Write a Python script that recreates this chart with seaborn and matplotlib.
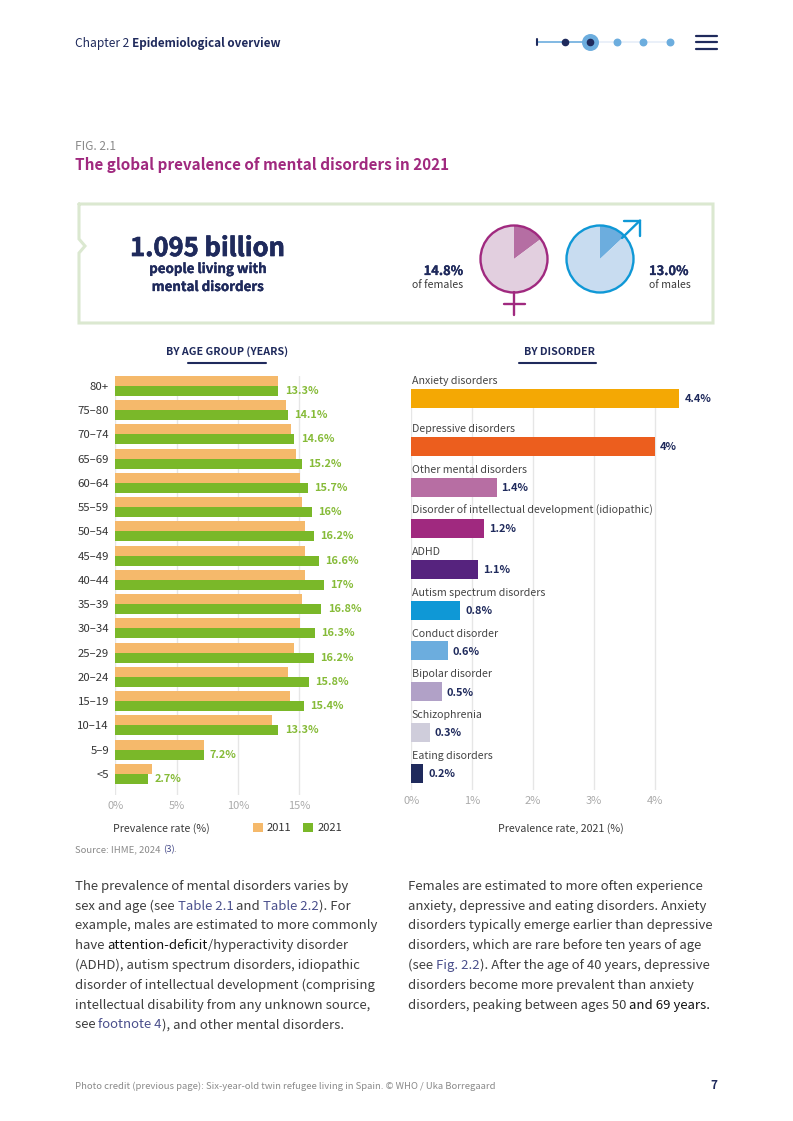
import matplotlib
matplotlib.use('Agg')
import matplotlib.pyplot as plt
import matplotlib.patheffects as pe
from matplotlib.patches import Circle
import pandas as pd
import seaborn as sns

ageGroups = ['80+', '75–80', '70–74', '65–69', '60–64', '55–59', '50–54', '45–49', '40–44',
             '35–39', '30–34', '25–29', '20–24', '15–19', '10–14', '5–9', '<5']
rate2011 = [13.3, 13.9, 14.3, 14.7, 15.05, 15.2, 15.5, 15.5, 15.45, 15.2, 15.05, 14.55, 14.1, 14.2, 12.8, 7.2, 3.0]
rate2021 = [13.3, 14.1, 14.6, 15.2, 15.7, 16, 16.2, 16.6, 17, 16.8, 16.3, 16.2, 15.8, 15.4, 13.3, 7.2, 2.7]

disorders = ['Anxiety disorders', 'Depressive disorders', 'Other mental disorders',
             'Disorder of intellectual development (idiopathic)', 'ADHD', 'Autism spectrum disorders',
             'Conduct disorder', 'Bipolar disorder', 'Schizophrenia', 'Eating disorders']
disorderRates = [4.4, 4, 1.4, 1.2, 1.1, 0.8, 0.6, 0.5, 0.3, 0.2]
disorderColors = ['#f4a804', '#ec5e1e', '#b76ea3', '#a0297f', '#56237e', '#0f98d6', '#6cadde', '#b1a1c7', '#cfcddb', '#1f2a5c']

femaleRate = 14.8
maleRate = 13.0

leftBody = [
  [('The prevalence of mental disorders varies by', 'body')],
  [('sex and age (see ', 'body'), ('Table 2.1', 'link'), (' and ', 'body'), ('Table 2.2', 'link'), ('). For', 'body')],
  [('example, males are estimated to more commonly', 'body')],
  [('have ', 'body'), ('attention-deficit', 'dark'), ('/hyperactivity disorder', 'body')],
  [('(ADHD), autism spectrum disorders, idiopathic', 'body')],
  [('disorder of intellectual development (comprising', 'body')],
  [('intellectual disability from any unknown source,', 'body')],
  [('see ', 'body'), ('footnote 4', 'link'), ('), and other mental disorders.', 'body')],
]
rightBody = [
  [('Females are estimated to more often experience', 'body')],
  [('anxiety, depressive and eating disorders. Anxiety', 'body')],
  [('disorders typically emerge earlier than depressive', 'body')],
  [('disorders, which are rare before ten years of age', 'body')],
  [('(see ', 'body'), ('Fig. 2.2', 'link'), ('). After the age of 40 years, depressive', 'body')],
  [('disorders become more prevalent than anxiety', 'body')],
  [('disorders, peaking between ages 50 ', 'body'), ('and 69 years.', 'dark')],
]

NAVY = '#1f2a5c'
MAGENTA = '#a0297f'
BLUE = '#0f98d6'
GREEN = '#7ab829'
ORANGE = '#f5b96b'
GREY = '#8a8a8a'
W, H = 793, 1121
RUN_COLORS = {'body': '#3d3d3d', 'link': '#4a4f8c', 'dark': '#111111'}

sns.set_theme(style='white')
plt.rcParams['font.family'] = ['Noto Sans CJK SC', 'DejaVu Sans']

fig = plt.figure(figsize=(W / 100, H / 100), dpi=100, facecolor='white')
renderer = fig.canvas.get_renderer()


def pxAxes(left, top, right, bottom):
  return fig.add_axes([left / W, 1 - bottom / H, (right - left) / W, (bottom - top) / H])


page = fig.add_axes([0, 0, 1, 1], zorder=5)
page.set_xlim(0, W)
page.set_ylim(H, 0)
page.axis('off')
page.patch.set_alpha(0)


def bold(x, y, s, size, color=NAVY, ha='left', weight='bold', stroke=0):
  t = page.text(x, y, s, fontsize=size, color=color, ha=ha, va='baseline', fontweight=weight)
  if stroke:
    t.set_path_effects([pe.withStroke(linewidth=stroke, foreground=color)])


def plain(x, y, s, size, color='#3b3b3b', ha='left'):
  page.text(x, y, s, fontsize=size, color=color, ha=ha, va='baseline')


def textRuns(x, y, parts, size):
  for s, kind in parts:
    t = page.text(x, y, s, fontsize=size, va='baseline', color=RUN_COLORS[kind])
    t.set_text(s + '|')
    full = t.get_window_extent(renderer).width
    t.set_text('|')
    bar = t.get_window_extent(renderer).width
    t.set_text(s)
    x += full - bar


# age group chart
ageDf = pd.DataFrame({
  'age': ageGroups * 2,
  'rate': rate2011 + rate2021,
  'year': ['2011'] * len(ageGroups) + ['2021'] * len(ageGroups),
})
axAge = pxAxes(115.3, 376, 365, 795)
sns.barplot(data=ageDf, y='age', x='rate', hue='year', palette=[ORANGE, GREEN], width=0.825, gap=0,
            saturation=1, linewidth=0, ax=axAge, zorder=3)
axAge.set_xlim(0, (365 - 115.3) / 12.27)
axAge.set_ylim(16.87, -0.4125)
axAge.set_xticks([0, 5, 10, 15], ['0%', '5%', '10%', '15%'])
axAge.bar_label(axAge.containers[1], labels=[f'{v:g}%' for v in rate2021], padding=4.5, color='#86bb38',
                fontsize=7.9, fontweight='bold')
sns.move_legend(axAge, 'center left', bbox_to_anchor=(253 / W, 1 - 828 / H), bbox_transform=fig.transFigure,
                ncol=2, frameon=False, title=None, fontsize=8, handlelength=0.9, handleheight=0.9,
                handletextpad=0.35, columnspacing=1.05, borderpad=0, borderaxespad=0, labelcolor='#333333')

# disorder chart
axDis = pxAxes(411.3, 389, 720, 790)
sns.barplot(x=disorderRates, y=disorders, hue=disorders, palette=disorderColors, legend=False, width=0.4645,
            saturation=1, linewidth=0, ax=axDis, zorder=3)
axDis.set_xlim(0, (720 - 411.3) / 60.9)
axDis.set_ylim(9.4, -0.406)
axDis.set_xticks(range(5), [f'{i}%' for i in range(5)])
bars = [p for p in axDis.patches if p.get_width() > 0]
bars[0].set_y(bars[0].get_y() - 0.174)  # first row sits further from the others
for p, name, v in zip(bars, disorders, disorderRates):
  axDis.annotate(f'{v:g}%', (p.get_width(), p.get_y() + p.get_height() / 2), xytext=(3.6, -0.5),
                 textcoords='offset points', va='center', color=NAVY, fontsize=7.9,
                 fontweight='bold', annotation_clip=False)
  axDis.annotate(name, (0, p.get_y()), xytext=(0.2, 3.5), textcoords='offset points', va='baseline',
                 color='#454545', fontsize=7.65, annotation_clip=False)

for ax in (axAge, axDis):
  ax.set_xlabel('')
  ax.set_ylabel('')
  ax.grid(axis='x', color='#e6e6e6', lw=1)
  ax.set_axisbelow(True)
  sns.despine(ax=ax, left=True, bottom=True, top=True, right=True)
  ax.tick_params(axis='x', length=0, pad=4.5, labelsize=8, labelcolor='#aaaaaa')
  ax.tick_params(axis='y', length=0, pad=4.5, labelsize=8.2, labelcolor='#333333')
axDis.set_yticks([])

# key figure card and the two pies
page.plot([79, 713, 713, 79, 79, 85, 79, 79], [204, 204, 323, 323, 253, 246, 239, 204],
          color='#dbe8d0', lw=2.2, solid_joinstyle='miter')


def sexPie(cx, cy, rate, light, dark, edge):
  r = 33.5 * 1.12
  ax = pxAxes(cx - r, cy - r, cx + r, cy + r)
  ax.pie([rate, 100 - rate], colors=[dark, light], startangle=90, counterclock=False, radius=1,
         wedgeprops={'linewidth': 0})
  ax.add_patch(Circle((0, 0), 1, fill=False, ec=edge, lw=1.7))
  ax.set_xlim(-1.12, 1.12)
  ax.set_ylim(-1.12, 1.12)


sexPie(514, 259, femaleRate, '#e2cfdf', '#b56ea3', MAGENTA)
sexPie(600, 259, maleRate, '#c8dcf0', '#6cadde', BLUE)
page.plot([514, 514], [292, 315], color=MAGENTA, lw=1.7)
page.plot([503.5, 525], [304, 304], color=MAGENTA, lw=1.7)
page.plot([622, 640], [238, 220.5], color=BLUE, lw=1.7)
page.plot([624, 640, 640], [220.5, 220.5, 236], color=BLUE, lw=1.7, solid_joinstyle='miter')

bold(207.5, 256, '1.095 billion', 18.4, ha='center', weight='black', stroke=0.5)
bold(207.5, 273, 'people living with', 9.6, ha='center', stroke=0.25)
bold(207.5, 291, 'mental disorders', 9.6, ha='center', stroke=0.25)
bold(463, 275, f'{femaleRate}%', 9.3, ha='right', stroke=0.2)
plain(463, 288, 'of females', 7.6, ha='right')
bold(649, 275, f'{maleRate:.1f}%', 9.3, stroke=0.2)
plain(649, 288, 'of males', 7.6)

bold(227, 355, 'BY AGE GROUP (YEARS)', 7.7, ha='center')
bold(559, 355, 'BY DISORDER', 7.7, ha='center')
page.plot([188, 266], [362.5, 362.5], color=NAVY, lw=1.5, solid_capstyle='round')
page.plot([519, 596], [362.5, 362.5], color=NAVY, lw=1.5, solid_capstyle='round')
plain(113, 832, 'Prevalence rate (%)', 7.7)
plain(560.5, 832, 'Prevalence rate, 2021 (%)', 7.7, ha='center')

# page furniture
plain(75, 47, 'Chapter 2', 8.6, color=NAVY)
bold(132, 47, 'Epidemiological overview', 8.45)
plain(75, 150, 'FIG. 2.1', 8.6, color=GREY)
bold(75, 170, 'The global prevalence of mental disorders in 2021', 11, color=MAGENTA)
plain(75, 852, 'Source: IHME, 2024', 6.9, color=GREY)
page.text(163, 852, '(3)', fontsize=6.9, style='italic', color='#4a4f8c')
plain(173.5, 852, '.', 6.9, color=GREY)
plain(75, 1089, 'Photo credit (previous page): Six-year-old twin refugee living in Spain. © WHO / Uka Borregaard', 6.83, color=GREY)
bold(717, 1089, '7', 8.4, ha='right')

for i, parts in enumerate(leftBody):
  textRuns(75, 890 + i * 19.75, parts, 9.47)
for i, parts in enumerate(rightBody):
  textRuns(408, 890 + i * 19.75, parts, 9.47)

page.plot([537, 590], [42, 42], color='#6cadde', lw=1.2)
page.plot([590, 670], [42, 42], color='#e6eef8', lw=1.2)
page.plot([537, 537], [39, 45], color=NAVY, lw=1.5)
page.scatter([564.5], [42], s=20, color=NAVY, zorder=3)
page.scatter([590], [42], s=125, color='#6cadde', zorder=3)
page.scatter([590], [42], s=20, color=NAVY, zorder=4)
page.scatter([616.5, 643, 670], [42, 42, 42], s=22, color='#6cadde', zorder=3)
for y in (35.5, 42, 48.5):
  page.plot([696, 717], [y, y], color=NAVY, lw=1.6)

page.set_xlim(0, W)
page.set_ylim(H, 0)
fig.savefig('out.png', dpi=100)
plt.close()
